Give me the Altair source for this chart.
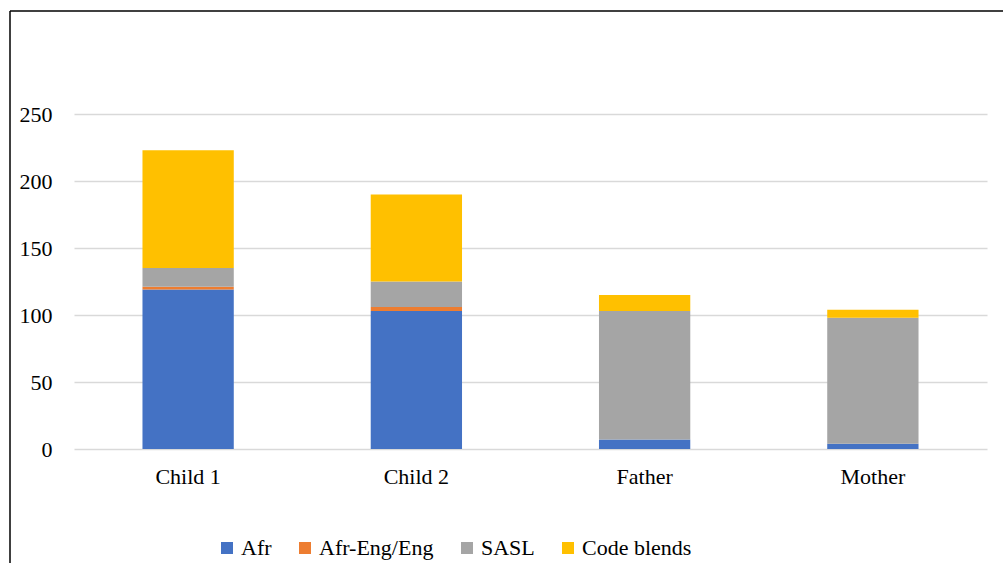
import altair as alt
import pandas as pd

# Stacked counts per participant and language mode
categories = ["Child 1", "Child 2", "Father", "Mother"]
series = ["Afr", "Afr-Eng/Eng", "SASL", "Code blends"]
afr = [119, 103, 7, 4]
afr_eng = [2, 3, 0, 0]
sasl = [14, 19, 96, 94]
code_blends = [88, 65, 12, 6]
colors = ["#4472C4", "#ED7D31", "#A5A5A5", "#FFC000"]
y_ticks = [0, 50, 100, 150, 200, 250]

rows = []
for s_idx, (name, vals) in enumerate(zip(series, [afr, afr_eng, sasl, code_blends])):
    for cat, v in zip(categories, vals):
        rows.append({"who": cat, "mode": name, "count": v, "order": s_idx})
df = pd.DataFrame(rows)

FONT = "Liberation Serif"

bars = alt.Chart(df).mark_bar().encode(
    x=alt.X("who:N", sort=categories,
            scale=alt.Scale(paddingInner=0.6, paddingOuter=0.3),
            axis=alt.Axis(title=None, labelAngle=0, ticks=False, domain=False,
                          labelFont=FONT, labelFontSize=22, labelColor="#000000",
                          labelPadding=17)),
    y=alt.Y("count:Q", stack="zero",
            scale=alt.Scale(domain=[0, 250], nice=False),
            axis=alt.Axis(title=None, values=y_ticks, ticks=False, domain=False,
                          labelFont=FONT, labelFontSize=22, labelColor="#000000",
                          labelPadding=22, gridColor="#D9D9D9", gridWidth=1.5)),
    color=alt.Color("mode:N", sort=series,
                    scale=alt.Scale(domain=series, range=colors),
                    legend=alt.Legend(title=None, orient="none", direction="horizontal",
                                      legendX=142, legendY=423, symbolType="square",
                                      symbolSize=144, symbolStrokeWidth=0,
                                      labelFont=FONT, labelFontSize=22,
                                      labelColor="#000000", columnPadding=22,
                                      labelOffset=3, padding=0)),
    order=alt.Order("order:Q"),
)

# Frame lines along the top and left of the figure
frame = alt.Chart(alt.Data(values=[{}])).mark_rule(color="#000000", strokeWidth=1.5)
left_line = frame.encode(x=alt.value(-64), y=alt.value(-103), y2=alt.value(449))
top_line = frame.encode(x=alt.value(-64), x2=alt.value(929), y=alt.value(-103))

chart = alt.layer(bars, left_line, top_line).properties(
    width=913, height=335,
    autosize=alt.AutoSizeParams(type="none"),
    padding={"left": 74, "top": 114, "right": 16, "bottom": 114},
    background="#FFFFFF",
).configure_view(stroke=None)

chart.save("out.html", embed_options={"renderer": "svg", "actions": False})
